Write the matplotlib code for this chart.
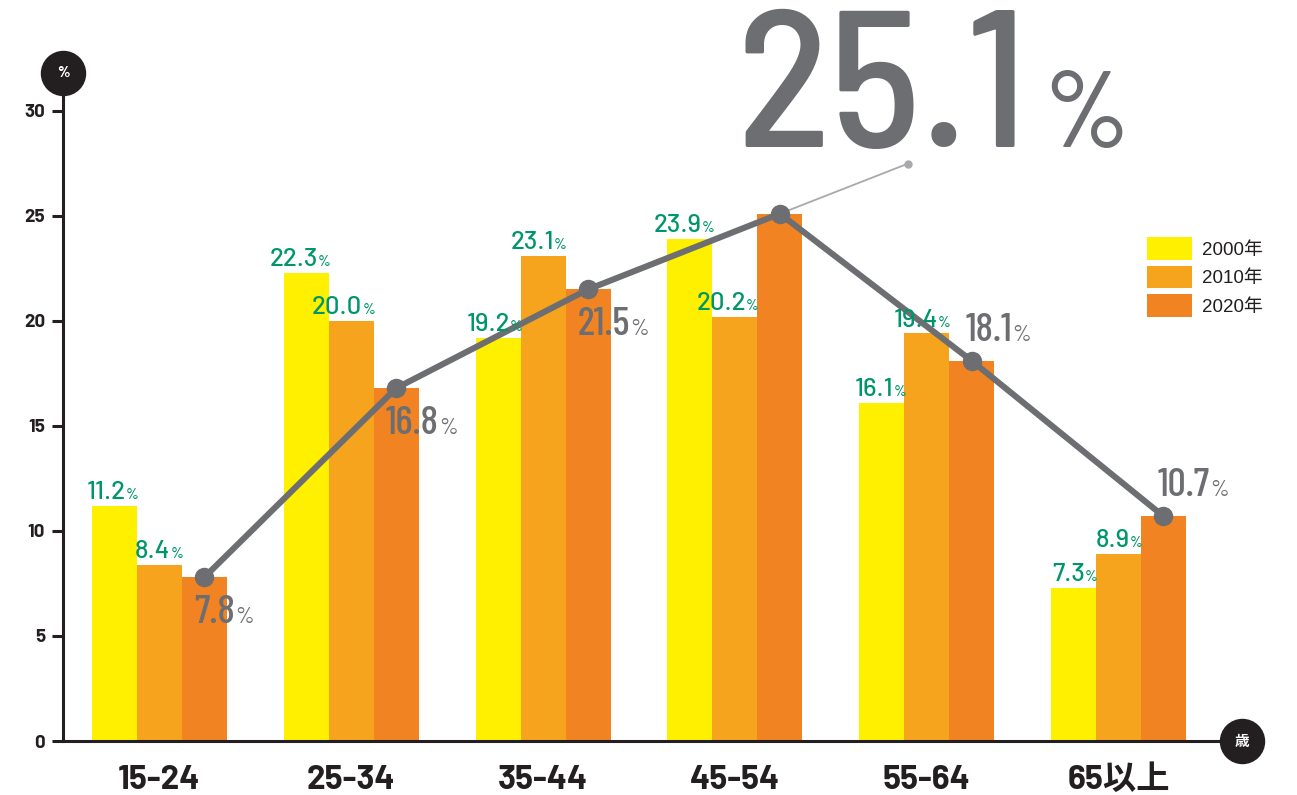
import matplotlib.pyplot as plt
import numpy as np
from matplotlib.transforms import offset_copy

ages = ["15-24", "25-34", "35-44", "45-54", "55-64", "65以上"]
years = ["2000年", "2010年", "2020年"]
v2000 = [11.2, 22.3, 19.2, 23.9, 16.1, 7.3]
v2010 = [8.4, 20.0, 23.1, 20.2, 19.4, 8.9]
v2020 = [7.8, 16.8, 21.5, 25.1, 18.1, 10.7]
yticks = [0, 5, 10, 15, 20, 25, 30]

ink = "#231f20"
grey = "#6d6e71"
green = "#00966c"
colors = ["#fff000", "#f6a31e", "#f28322"]
cond_font = ["Barlow Condensed", "DejaVu Sans"]
semi_font = ["Barlow Semi Condensed", "DejaVu Sans"]
tick_font = ["Barlow", "Noto Sans CJK JP", "DejaVu Sans"]

fig = plt.figure(figsize=(12.97, 7.95), dpi=100)
ax = fig.add_axes([63 / 1297, 54 / 795, 1179 / 1297, 668 / 795])
x = np.arange(len(ages))
w = 0.2346
x0, x1, ytop = -0.503, 5.644, 31.8

for i, (vals, c, lab) in enumerate(zip([v2000, v2010, v2020], colors, years)):
    ax.bar(x + (i - 1) * w, vals, w, color=c, label=lab, zorder=2)

ax.set_xlim(x0, x1)
ax.set_ylim(0, ytop)

for s in ["top", "right"]:
    ax.spines[s].set_visible(False)
for s in ["left", "bottom"]:
    ax.spines[s].set_linewidth(2.2)
    ax.spines[s].set_color(ink)
    ax.spines[s].set_zorder(3)

ax.set_yticks(yticks)
ax.set_xticks(x)
ax.set_xticklabels(ages)
ax.tick_params(axis="y", length=8, width=2.2, color=ink, pad=5)
ax.tick_params(axis="x", length=0, pad=17)
for t in ax.get_yticklabels():
    t.set_fontfamily(tick_font)
    t.set_fontweight("bold")
    t.set_fontsize(13.5)
    t.set_color(ink)
for t in ax.get_xticklabels():
    t.set_fontfamily(tick_font)
    t.set_fontweight("bold")
    t.set_fontsize(24)
    t.set_color(ink)

# axis end caps
ax.plot([x0], [ytop], "o", ms=31.7, color=ink, clip_on=False, zorder=6)
ax.text(x0, ytop, "%", color="white", fontsize=11, ha="center", va="center",
        family=tick_font, fontweight="bold", zorder=7)
ax.plot([x1], [0], "o", ms=31.7, color=ink, clip_on=False, zorder=6)
ax.text(x1, 0, "歳", color="white", fontsize=10.5, ha="center", va="center",
        family=["Noto Sans CJK JP"], fontweight="bold", zorder=7)

# 2020 line with a leader to the headline figure
xl = x + w
ax.annotate("", xy=(xl[3], v2020[3]), xytext=(92, 36), textcoords="offset points",
            arrowprops=dict(arrowstyle="-", color="#a7a9ac", lw=1.3,
                            shrinkA=0, shrinkB=0), zorder=3)
ax.plot([xl[3]], [v2020[3]], "o", ms=5, color="#a7a9ac", clip_on=False, zorder=3,
        transform=offset_copy(ax.transData, fig=fig, x=92, y=36, units="points"))
ax.plot(xl, v2020, color=grey, lw=4.4, marker="o", ms=13, zorder=4,
        solid_capstyle="round", clip_on=False)


def pct_label(xv, yv, num, color, size, dx, dy, family, ha="left",
              weight="normal", gap=1.0, psize=None, pweight=None, pfamily=None):
    tr = offset_copy(ax.transData, fig=fig, x=dx, y=dy, units="points")
    psize = psize or size * 0.6
    kw = dict(color=color, va="baseline", zorder=5)
    pkw = dict(fontsize=psize, fontweight=pweight or weight, family=pfamily or family)
    if ha == "left":
        t = ax.text(xv, yv, num, transform=tr, ha="left", fontsize=size,
                    fontweight=weight, family=family, **kw)
        ax.annotate("%", xy=(1, yv), xycoords=(t, tr), xytext=(gap, 0),
                    textcoords="offset points", ha="left", **pkw, **kw)
    else:
        p = ax.text(xv, yv, "%", transform=tr, ha="right", **pkw, **kw)
        ax.annotate(num, xy=(0, yv), xycoords=(p, tr), xytext=(-gap, 0),
                    textcoords="offset points", ha="right", fontsize=size,
                    fontweight=weight, family=family, **kw)


for i in range(len(ages)):
    pct_label(x[i] - w / 2, v2000[i], f"{v2000[i]:.1f}", green, 18.5, 1.5, 5,
              tick_font, ha="right", weight="medium", gap=0, psize=11)
    pct_label(x[i] + w / 2, v2010[i], f"{v2010[i]:.1f}", green, 18.5, 1, 5,
              tick_font, ha="right", weight="medium", gap=0, psize=11)

for i in [0, 1, 2]:
    pct_label(xl[i], v2020[i], f"{v2020[i]:.1f}", grey, 29, -7.5, -33,
              cond_font, weight="medium", gap=0.5, psize=17, pweight="normal")
for i in [4, 5]:
    pct_label(xl[i], v2020[i], f"{v2020[i]:.1f}", grey, 29, -4.5, 14.5,
              cond_font, weight="medium", gap=0.5, psize=17, pweight="normal")

pct_label(xl[3], v2020[3], f"{v2020[3]:.1f}", grey, 140, -31, 48, semi_font,
          weight="medium", gap=12, psize=78, pweight="medium", pfamily=cond_font)

ax.legend(loc="upper left", bbox_to_anchor=(1147 / 1297, 1 - 237 / 795),
          bbox_transform=fig.transFigure, frameon=False, borderpad=0,
          borderaxespad=0, handlelength=2.4, handleheight=1.5, labelspacing=0.3,
          handletextpad=0.55,
          prop={"family": ["Liberation Sans", "Noto Sans CJK JP"], "size": 13.5},
          labelcolor=ink)

fig.savefig("out.png", dpi=100)
